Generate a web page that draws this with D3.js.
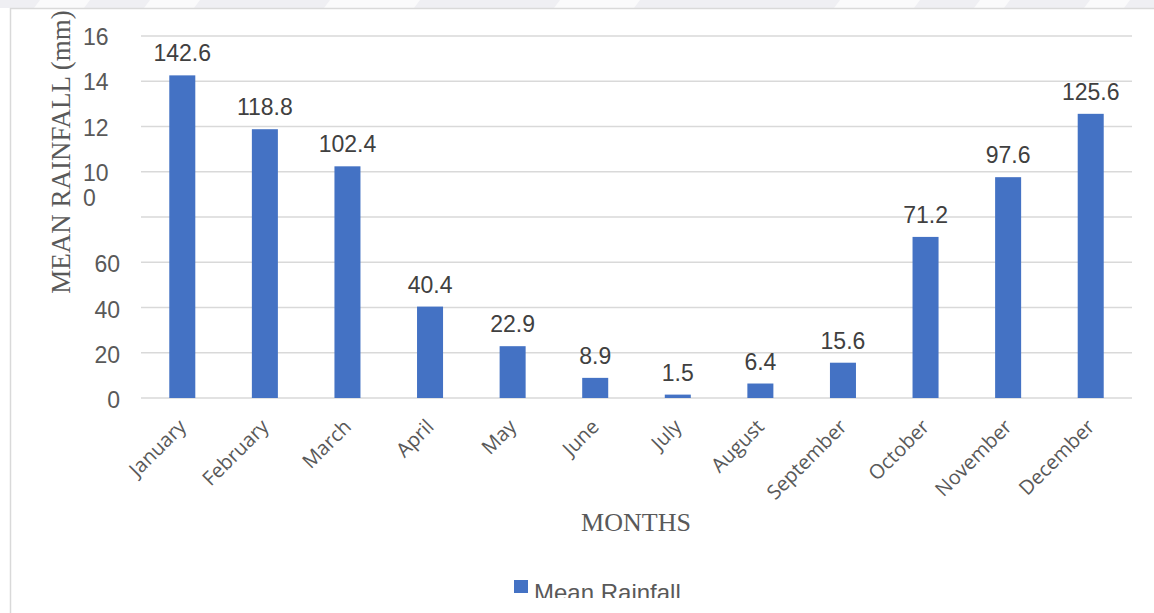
<!DOCTYPE html>
<html>
<head>
<meta charset="utf-8">
<script src="https://cdn.jsdelivr.net/npm/d3@7"></script>
<style>
  html, body { margin: 0; padding: 0; background: #fff; }
  svg { display: block; }
</style>
</head>
<body>
<svg id="chart" width="1154" height="613"></svg>
<script>
// Monthly mean rainfall (mm)
const months = ["January", "February", "March", "April", "May", "June",
                "July", "August", "September", "October", "November", "December"];
const rainfall = [142.6, 118.8, 102.4, 40.4, 22.9, 8.9, 1.5, 6.4, 15.6, 71.2, 97.6, 125.6];
const tickValues = [0, 20, 40, 60, 80, 100, 120, 140, 160];
// Axis labels as printed (the wide ones are cut off / wrapped in the narrow label box)
const tickLabels = ["0", "20", "40", "60", "", "10\n0", "12", "14", "16"];
const seriesName = "Mean Rainfall";
const xTitle = "MONTHS";
const yTitle = "MEAN RAINFALL (mm)";

const svg = d3.select("#chart");
const W = 1154, H = 613;
const plot = { left: 141, right: 1132, top: 36, bottom: 398 };

// Faint band along the top edge
svg.append("rect").attr("x", 0).attr("y", 0).attr("width", W).attr("height", 8).attr("fill", "#efeff3");
[[40, 90], [150, 200], [330, 420], [560, 640], [840, 920], [980, 1010], [1090, 1130]].forEach(([a, b]) => {
  svg.append("path")
    .attr("d", `M${a},0 L${b},0 L${b - 6},8 L${a - 6},8 Z`)
    .attr("fill", "#fafafb");
});

// Chart frame
svg.append("line").attr("x1", 10).attr("x2", W).attr("y1", 8.5).attr("y2", 8.5)
  .attr("stroke", "#d9d9d9").attr("stroke-width", 1.5);
svg.append("line").attr("x1", 10.5).attr("x2", 10.5).attr("y1", 8).attr("y2", H)
  .attr("stroke", "#d9d9d9").attr("stroke-width", 1.5);

const x = d3.scaleBand().domain(months).range([plot.left, plot.right]).paddingInner(0.685).paddingOuter(0.3425);
const y = d3.scaleLinear().domain([0, 160]).range([plot.bottom, plot.top]);

// Gridlines
svg.append("g").selectAll("line").data(tickValues).join("line")
  .attr("x1", plot.left).attr("x2", plot.right)
  .attr("y1", d => y(d)).attr("y2", d => y(d))
  .attr("stroke", "#d9d9d9").attr("stroke-width", 1.5);

// Y tick labels
const yl = svg.append("g").attr("font-family", "Liberation Sans, Arial, sans-serif")
  .attr("font-size", 23).attr("fill", "#595959");
tickValues.forEach((v, i) => {
  const lab = tickLabels[i];
  if (!lab) return;
  const lines = lab.split("\n");
  if (v >= 100) {
    const t = yl.append("text").attr("x", 83).attr("y", y(v) + 9).attr("text-anchor", "start");
    lines.forEach((ln, k) => t.append("tspan").attr("x", 83).attr("dy", k ? 25 : 0).text(ln));
  } else {
    yl.append("text").attr("x", 120).attr("y", y(v) + 10).attr("text-anchor", "end").text(lab);
  }
});

// Bars
svg.append("g").selectAll("rect").data(months).join("rect")
  .attr("x", d => x(d))
  .attr("width", x.bandwidth())
  .attr("y", (d, i) => y(rainfall[i]))
  .attr("height", (d, i) => y(0) - y(rainfall[i]))
  .attr("fill", "#4472c4");

// Value labels
svg.append("g").selectAll("text").data(months).join("text")
  .attr("x", d => x(d) + x.bandwidth() / 2)
  .attr("y", (d, i) => y(rainfall[i]) - 14)
  .attr("text-anchor", "middle")
  .attr("font-family", "Liberation Sans, Arial, sans-serif")
  .attr("font-size", 23).attr("fill", "#404040")
  .text((d, i) => rainfall[i].toFixed(1));

// Category labels
svg.append("g").selectAll("text").data(months).join("text")
  .attr("transform", d => `translate(${x(d) + x.bandwidth() / 2 + 5},${plot.bottom + 30}) rotate(-45)`)
  .attr("text-anchor", "end")
  .attr("font-family", "Open Sans, sans-serif")
  .attr("font-size", 20).attr("fill", "#595959")
  .text(d => d);

// Axis titles
svg.append("text").attr("x", 636).attr("y", 531).attr("text-anchor", "middle")
  .attr("font-family", "Liberation Serif, Times New Roman, serif")
  .attr("font-size", 26).attr("fill", "#595959").text(xTitle);
svg.append("text").attr("transform", "translate(70,152) rotate(-90)").attr("text-anchor", "middle")
  .attr("font-family", "Liberation Serif, Times New Roman, serif")
  .attr("font-size", 27).attr("fill", "#595959").text(yTitle);

// Legend (clipped at the bottom of the frame)
svg.append("defs").append("clipPath").attr("id", "legclip")
  .append("rect").attr("x", 0).attr("y", 0).attr("width", W).attr("height", 598);
const leg = svg.append("g").attr("clip-path", "url(#legclip)");
leg.append("rect").attr("x", 514).attr("y", 580).attr("width", 14).attr("height", 13).attr("fill", "#4472c4");
leg.append("text").attr("x", 534).attr("y", 601)
  .attr("font-family", "Liberation Sans, Arial, sans-serif")
  .attr("font-size", 24).attr("fill", "#595959").text(seriesName);
</script>
</body>
</html>
